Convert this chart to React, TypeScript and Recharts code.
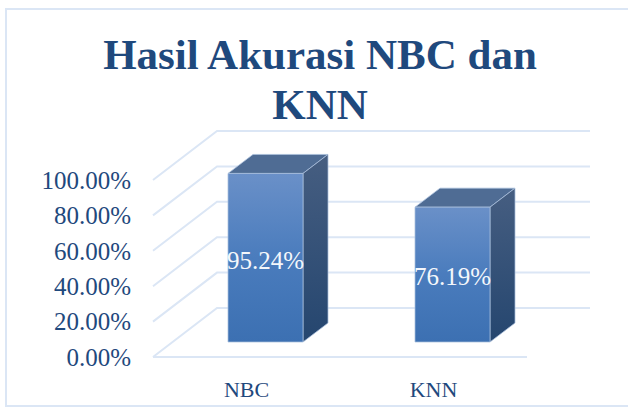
import { BarChart, Bar, XAxis, YAxis, CartesianGrid, LabelList } from "recharts";

const CATEGORIES = ["NBC", "KNN"];
const ACCURACY = [95.24, 76.19];
const Y_TICKS = [0, 20, 40, 60, 80, 100];

const DATA = CATEGORIES.map((name, i) => ({ name, accuracy: ACCURACY[i] }));

const FONT = "'Liberation Serif', serif";
const TEXT_BLUE = "#1f497d";
const GRID = "#dbe6f5";

// wall depth of the fake 3D box
const WALL_DX = 64;
const WALL_DY = 49;
// bars stand part way into the floor, and have their own depth
const BAR_SHIFT_X = 19;
const BAR_SHIFT_Y = 15;
const BAR_DX = 25;
const BAR_DY = 19;

const pct = (v: number) => v.toFixed(2) + "%";

function WallLine(props: any) {
  const { x1, x2, y1, index } = props;
  return (
    <polyline
      key={index}
      points={`${x1},${y1} ${x1 + WALL_DX},${y1 - WALL_DY} ${x2 + WALL_DX - 1},${y1 - WALL_DY}`}
      fill="none"
      stroke={GRID}
      strokeWidth={2}
    />
  );
}

function Box3D(props: any) {
  const { x, y, width, height } = props;
  const l = x + BAR_SHIFT_X;
  const r = l + width;
  const t = y - BAR_SHIFT_Y;
  const b = t + height;
  return (
    <g stroke="#a9bfdc" strokeWidth={0.75} strokeLinejoin="round">
      <polygon
        points={`${l},${t} ${l + BAR_DX},${t - BAR_DY} ${r + BAR_DX},${t - BAR_DY} ${r},${t}`}
        fill="#4f6c94"
      />
      <polygon
        points={`${r},${t} ${r + BAR_DX},${t - BAR_DY} ${r + BAR_DX},${b - BAR_DY} ${r},${b}`}
        fill="url(#sideFill)"
      />
      <rect x={l} y={t} width={width} height={height} fill="url(#frontFill)" />
    </g>
  );
}

export default function App() {
  return (
    <div style={{ position: "absolute", left: 0, top: 0, width: 628, height: 408, overflow: "hidden", background: "#fff" }}>
      <div
        style={{
          position: "absolute",
          left: 5,
          top: 8,
          width: 660,
          height: 399,
          border: `2px solid ${GRID}`,
          boxSizing: "border-box",
        }}
      />
      <div
        style={{
          position: "absolute",
          left: 0,
          top: 30,
          width: 640,
          textAlign: "center",
          fontFamily: FONT,
          fontWeight: 700,
          fontSize: 43,
          lineHeight: "50px",
          color: TEXT_BLUE,
        }}
      >
        Hasil Akurasi NBC dan
        <br />
        KNN
      </div>
      <div style={{ position: "absolute", left: 0, top: 0 }}>
        <BarChart
          width={628}
          height={408}
          data={DATA}
          barSize={75}
          margin={{ top: 180, right: 101, bottom: 0, left: 0 }}
        >
          <defs>
            <linearGradient id="frontFill" x1="0" y1="0" x2="0" y2="1">
              <stop offset="0%" stopColor="#6a90c8" />
              <stop offset="50%" stopColor="#4a7cbd" />
              <stop offset="100%" stopColor="#3c70b2" />
            </linearGradient>
            <linearGradient id="sideFill" x1="0" y1="0" x2="0" y2="1">
              <stop offset="0%" stopColor="#465e81" />
              <stop offset="100%" stopColor="#25466f" />
            </linearGradient>
          </defs>
          <CartesianGrid vertical={false} horizontal={WallLine} />
          <XAxis
            dataKey="name"
            height={51}
            tickLine={false}
            axisLine={{ stroke: GRID, strokeWidth: 2 }}
            tickMargin={18}
            tick={{ fontSize: 22, fontFamily: FONT, fill: TEXT_BLUE }}
          />
          <YAxis
            width={153}
            domain={[0, 100]}
            ticks={Y_TICKS}
            tickFormatter={pct}
            axisLine={false}
            tickLine={false}
            tickMargin={16}
            tick={{ fontSize: 25, fontFamily: FONT, fill: TEXT_BLUE }}
          />
          <Bar dataKey="accuracy" shape={Box3D} isAnimationActive={false}>
            <LabelList
              dataKey="accuracy"
              position="center"
              formatter={pct}
              dx={BAR_SHIFT_X}
              dy={-BAR_SHIFT_Y + 2}
              fill="#f4f7fb"
              fontSize={25}
              fontFamily={FONT}
            />
          </Bar>
        </BarChart>
      </div>
    </div>
  );
}
